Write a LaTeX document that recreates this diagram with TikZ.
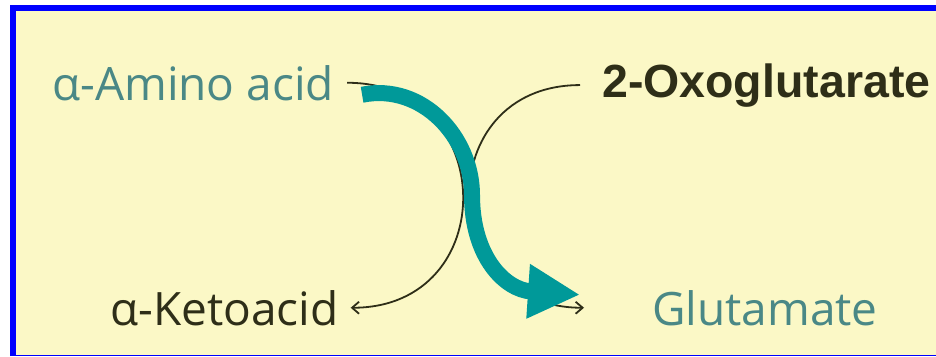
\documentclass[tikz,border=0pt]{standalone}
\usepackage{fontspec}
\newfontfamily\namefont{Open Sans}
\newfontfamily\oxofont{Liberation Sans}
\usepackage{xcolor}
\usetikzlibrary{arrows.meta}
\definecolor{framebl}{RGB}{0,0,255}
\definecolor{paper}{HTML}{FBF8C6}
\definecolor{tealarr}{HTML}{009999}
\definecolor{tealtxt}{HTML}{4A8886}
\definecolor{darkol}{HTML}{2E2E18}

\begin{document}
\begin{tikzpicture}[x=1pt, y=-1pt,
  lbl/.style={anchor=base west, inner sep=0pt, font=\namefont\fontsize{46}{50}\selectfont},
  rxn/.style={draw=darkol, line width=1.8pt, -{Straight Barb[length=7pt,width=12pt]}}]
  \useasboundingbox[fill=white] (0,0) rectangle (936,356);
  % frame (right side runs off the page)
  \fill[paper] (13,8) rectangle (936,356);
  \draw[framebl, line width=6pt] (13,356) -- (13,8) -- (936,8);
  \draw[framebl, line width=1.5pt] (13,355.5) -- (936,355.5);

  % compounds
  \node[lbl, text=tealtxt] (amino) at (52,100) {α-Amino acid};
  \node[lbl, text=darkol] (keto) at (110,325) {α-Ketoacid};
  \node[lbl, text=tealtxt] (glu) at (652,325) {Glutamate};
  \node[anchor=base west, inner sep=0pt, text=darkol,
        font=\oxofont\bfseries\fontsize{46.5}{50}\selectfont] (oxo) at (602,97) {2-Oxoglutarate};

  % half reactions
  \draw[rxn] ([xshift=13pt]amino.east) .. controls +(152,0) and +(152,0) .. ([xshift=12pt]keto.east);
  \draw[rxn] ([xshift=-22pt]oxo.west) .. controls +(-150,0) and +(-150,0) .. ([xshift=-68pt]glu.west);

  % amino group transfer
  \coordinate (bend) at (472,195);
  \draw[tealarr, line width=16pt, -{Triangle[length=52pt,width=51pt]}]
    ([shift={(28,12)}]amino.east) .. controls +(60,-12) and +(0,-58) .. (bend)
    .. controls +(0,62) and +(-75,-5) .. ([shift={(-72,-13)}]glu.west);
\end{tikzpicture}
\end{document}
